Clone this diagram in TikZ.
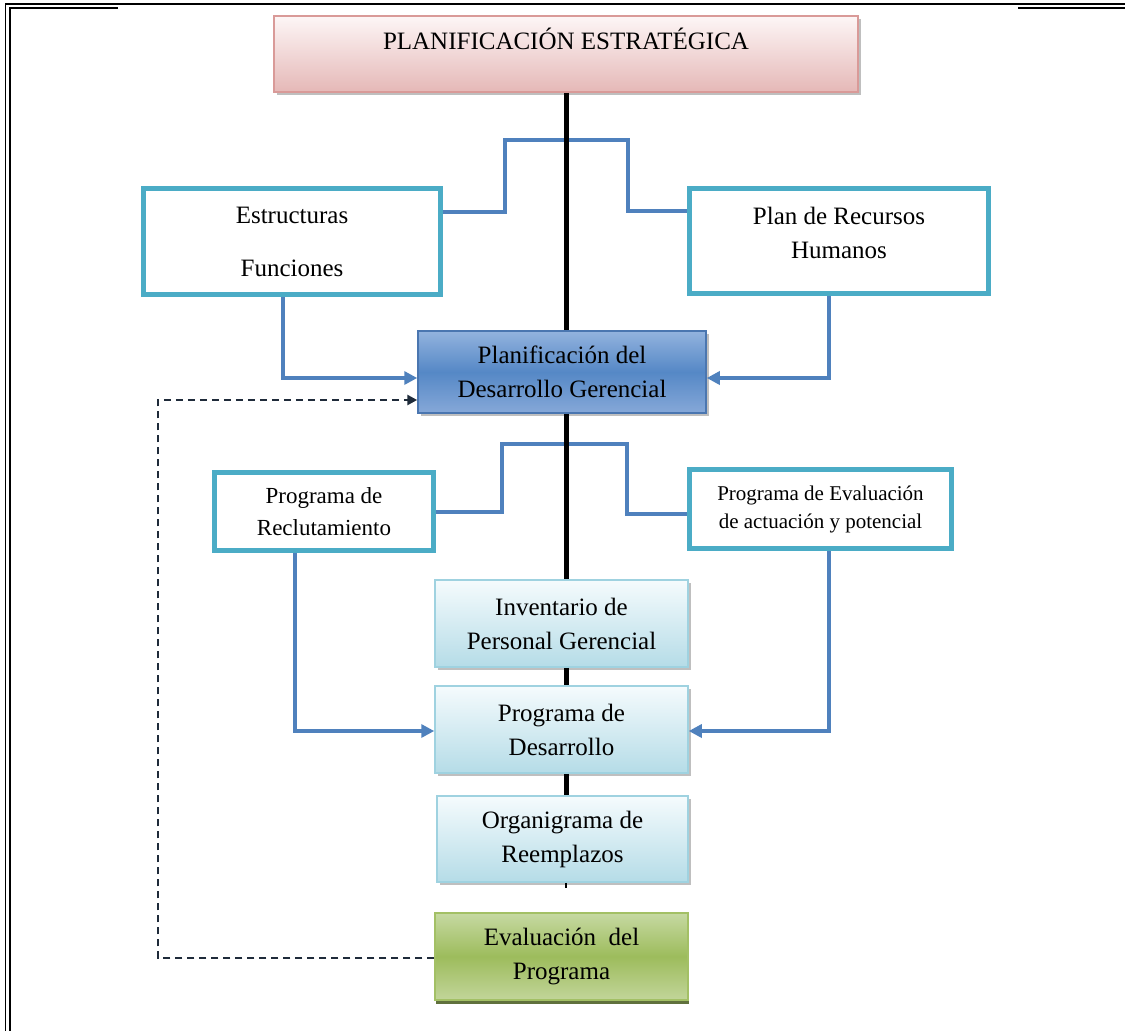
\documentclass[tikz,border=0pt]{standalone}
\usepackage{fontspec}
\setmainfont{Liberation Serif}
\usetikzlibrary{arrows.meta,shadows}

\definecolor{pinktop}{HTML}{FDF6F6}
\definecolor{pinkbot}{HTML}{E5B8B7}
\definecolor{pinkedge}{HTML}{D99A98}
\definecolor{frameteal}{HTML}{4BACC6}
\definecolor{linkblue}{HTML}{4F81BD}
\definecolor{bluetop}{HTML}{93B3DE}
\definecolor{bluemid}{HTML}{5588C6}
\definecolor{bluebot}{HTML}{86A8D8}
\definecolor{blueedge}{HTML}{4A76B0}
\definecolor{icetop}{HTML}{F5FBFD}
\definecolor{icebot}{HTML}{B5DCE7}
\definecolor{iceedge}{HTML}{9FD2E0}
\definecolor{greentop}{HTML}{C6D9A2}
\definecolor{greenmid}{HTML}{9DBC5C}
\definecolor{greenbot}{HTML}{C2D59A}
\definecolor{greenedge}{HTML}{A3C065}
\definecolor{greenshadow}{HTML}{4F6228}
\definecolor{dashink}{HTML}{1F2B3A}

\begin{document}
\begin{tikzpicture}[x=1pt,y=-1pt,
  every node/.style={inner sep=0pt, align=center,
    font=\fontsize{25}{34}\selectfont},
  shadowed/.style={drop shadow={shadow xshift=3pt, shadow yshift=-3pt,
    fill=black!50, opacity=.5}},
  titlebox/.style={draw=pinkedge, line width=1.5pt,
    top color=pinktop, bottom color=pinkbot, shadowed},
  plainbox/.style={draw=frameteal, line width=5pt, fill=white},
  bluebox/.style={draw=blueedge, line width=1.5pt,
    top color=bluetop, bottom color=bluebot, middle color=bluemid, shadowed},
  icebox/.style={draw=iceedge, line width=1.5pt,
    top color=icetop, bottom color=icebot, shadowed},
  greenbox/.style={draw=greenedge, line width=1.5pt,
    top color=greentop, bottom color=greenbot, middle color=greenmid,
    drop shadow={shadow xshift=1pt, shadow yshift=-4pt, fill=greenshadow, opacity=.9}},
  spine/.style={line width=5pt, black},
  conn/.style={line width=4pt, linkblue},
  feed/.style={conn, -{Triangle[length=13pt,width=13pt]}},
  backloop/.style={line width=2.5pt, dashink, dash pattern=on 7pt off 5pt,
    -{Triangle[length=10pt,width=10pt]}},
  rim/.style={line width=2pt, black}
]
\useasboundingbox (0,0) rectangle (1125,1031);

% page frame
\draw[rim] (5,3.5) -- (1125,3.5);
\draw[rim] (9.5,7.5) -- (118,7.5);
\draw[rim] (1018,7.5) -- (1125,7.5);
\draw[line width=1.6pt] (5.6,3) -- (5.6,1031);
\draw[line width=1.6pt] (10,7) -- (10,1031);

% boxes
\node[titlebox, minimum width=584pt, minimum height=76pt,
      text height=10pt, text depth=20pt] (plan) at (566,54)
      {PLANIFICACIÓN ESTRATÉGICA};

\node[plainbox, minimum width=297pt, minimum height=106pt] (estr) at (292,241.5)
      {Estructuras\\[19pt]Funciones};
\node[plainbox, minimum width=299pt, minimum height=105pt,
      label={[yshift=8pt]center:{Plan de Recursos\\Humanos}}] (prh) at (839,241) {};

\node[bluebox, minimum width=288pt, minimum height=82pt] (pdg) at (562,372)
      {Planificación del\\Desarrollo Gerencial};

\node[plainbox, minimum width=219pt, minimum height=78pt,
      font=\fontsize{23}{32}\selectfont] (recl) at (324,511.5)
      {Programa de\\Reclutamiento};
\node[plainbox, minimum width=262pt, minimum height=79pt,
      font=\fontsize{21}{28}\selectfont] (peva) at (820.5,509)
      {Programa de Evaluación\\de actuación y potencial};

\node[icebox, minimum width=253pt, minimum height=87pt] (inv) at (561.5,623.5)
      {Inventario de\\Personal Gerencial};
\node[icebox, minimum width=253pt, minimum height=87pt] (pdes) at (561.5,729.5)
      {Programa de\\Desarrollo};
\node[icebox, minimum width=251pt, minimum height=86pt] (org) at (562.5,839)
      {Organigrama de\\Reemplazos};

\node[greenbox, minimum width=253pt, minimum height=87pt] (evp) at (561.5,956.5)
      {Evaluación\ \ del\\Programa};

% blue links between the side boxes
\draw[conn] ([yshift=30pt]estr.east) -- ++(62,0) |- (628,140)
            |- ([yshift=30pt]prh.west);
\draw[conn] (recl.east) -- ++(66,0) |- (627,444)
            |- ([yshift=-5pt]peva.west);

% central spine: one vertical at the title's centre, between the stacked boxes
\coordinate (tail) at (566,888);
\draw[spine] (plan.south) -- (plan.south |- pdg.north);
\draw[spine] (plan.south |- pdg.south) -- (plan.south |- inv.north);
\draw[spine] (plan.south |- inv.south) -- (plan.south |- pdes.north);
\draw[spine] (plan.south |- pdes.south) -- (plan.south |- org.north);
\draw[line width=2pt] (plan.south |- org.south) -- (tail);

% feeds into the planning box and the development programme
\draw[feed] ([xshift=-9pt]estr.south) |- ([yshift=-6pt]pdg.west);
\draw[feed] ([xshift=-10pt]prh.south) |- ([yshift=-6pt]pdg.east);
\draw[feed] ([xshift=-29pt]recl.south) |- ([yshift=-1.5pt]pdes.west);
\draw[feed] ([xshift=8.5pt]peva.south) |- ([yshift=-1.5pt]pdes.east);

% evaluation feedback loop
\coordinate (loop) at (158,400);
\draw[backloop] ([yshift=-1.5pt]evp.west) -| (loop) -- ([yshift=-28pt]pdg.west);
\end{tikzpicture}
\end{document}
